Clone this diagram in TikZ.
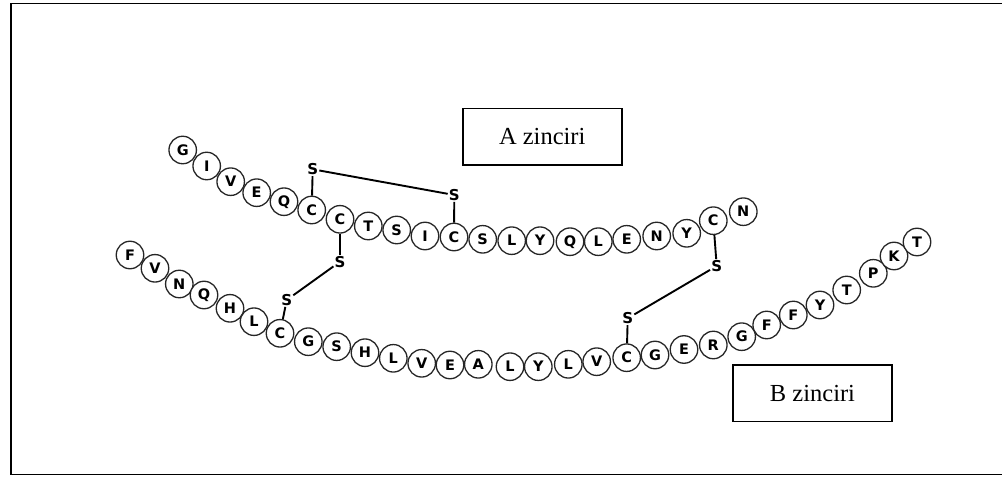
\documentclass[tikz,border=0pt]{standalone}
\usepackage{fontspec}
\setmainfont{Liberation Serif}
\newfontfamily\resfont{DejaVu Sans}
\begin{document}
\begin{tikzpicture}[x=1pt,y=-1pt,
  res/.style={circle,draw=black!85,line width=1.3pt,fill=white,minimum size=27.5pt,inner sep=0pt,
    font=\resfont\bfseries\fontsize{14.5}{14.5}\selectfont},
  sulf/.style={inner sep=1pt,font=\resfont\bfseries\fontsize{15}{15}\selectfont},
  bond/.style={line width=1.9pt},
  chainlabel/.style={draw,line width=1.6pt,font=\fontsize{24.5}{26}\selectfont,
    minimum width=159pt,minimum height=56.7pt,inner sep=0pt},
  frame/.style={line width=1.8pt}]
\useasboundingbox (0,0) rectangle (1002,478);
% outer frame (right side cut off)
\draw[frame] (1004,3.5) -- (11,3.5) -- (11,474.5) -- (1004,474.5);

% A chain
\foreach \x/\y/\l [count=\i] in {
  182.7/150/G, 206.7/166/I, 230.7/181.7/V, 256.7/192.7/E, 284/201.7/Q,
  311.7/210/C, 340/219.3/C, 368.3/226/T, 396.7/230/S, 425/236/I,
  454/237/C, 482.7/239.3/S, 511.7/240.7/L, 540/240.7/Y, 570/241.7/Q,
  598.3/241.7/L, 626.7/239.3/E, 656.7/236/N, 686.7/233.3/Y, 713.3/220.7/C,
  743.3/211.7/N}
  \node[res] (a\i) at (\x,\y) {\l};

% B chain
\foreach \x/\y/\l [count=\i] in {
  130/255/F, 155/268.3/V, 179.3/284/N, 204/295/Q, 230/308.3/H,
  254/321.7/L, 280/333.3/C, 308.3/341.7/G, 336.7/346.7/S, 365/352.7/H,
  393.3/358.3/L, 421.7/363.3/V, 450/365/E, 478.3/364.3/A, 510/366.7/L,
  538.3/366.7/Y, 568.3/364.3/L, 596.7/361.7/V, 626.7/357.7/C, 655/355/G,
  684/349.5/E, 713.3/345/R, 741.7/336.7/G, 766.7/325/F, 793.3/315/F,
  820/305/Y, 846.7/290/T, 873.3/273.3/P, 894/256/K}
  \node[res] (b\i) at (\x,\y) {\l};
\begin{scope}
  \clip (0,0) rectangle (932,478);
  \node[res] (b30) at (917,242) {T};
\end{scope}

% sulfur atoms
\node[sulf] (sa6)  at (312.7,169.3) {S};
\node[sulf] (sa11) at (454.3,195)   {S};
\node[sulf] (sa7)  at (340,261.7)   {S};
\node[sulf] (sb7)  at (286.7,300)   {S};
\node[sulf] (sa20) at (716.7,266)   {S};
\node[sulf] (sb19) at (627.7,318.3) {S};

% disulfide bridges
\draw[bond] (a6) -- (sa6);
\draw[bond] (sa6) -- (sa11);
\draw[bond] (sa11) -- (a11);
\draw[bond] (a7) -- (sa7);
\draw[bond] (sa7) -- (sb7);
\draw[bond] (sb7) -- (b7);
\draw[bond] (a20) -- (sa20);
\draw[bond] (sa20) -- (sb19);
\draw[bond] (sb19) -- (b19);

% labels
\node[chainlabel] (la) at (542.2,136.7) {A zinciri};
\node[chainlabel] (lb) at (812.5,393.3) {B zinciri};
\end{tikzpicture}
\end{document}
